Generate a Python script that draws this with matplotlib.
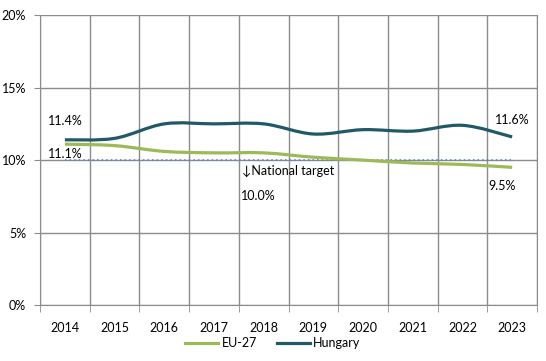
import numpy as np
import matplotlib
matplotlib.use("Agg")
import matplotlib.pyplot as plt
from matplotlib.path import Path
from matplotlib.patches import PathPatch
from matplotlib.lines import Line2D

years = ["2014", "2015", "2016", "2017", "2018", "2019", "2020", "2021", "2022", "2023"]
eu27 = [11.1, 11.0, 10.6, 10.5, 10.5, 10.2, 10.0, 9.8, 9.7, 9.5]
hungary = [11.4, 11.5, 12.5, 12.5, 12.5, 11.8, 12.1, 12.0, 12.4, 11.6]
target = 10.0

GREEN = "#9BBB59"
TEAL = "#215968"
BLUE = "#4F81BD"
GRID = "#8C8C8C"

plt.rcParams['font.family'] = ['Lato', 'DejaVu Sans']


def smooth_path(xs, ys, tension=1 / 6):
    # Excel-like smoothed line: cubic bezier through the data points
    xs = np.asarray(xs, float)
    ys = np.asarray(ys, float)
    n = len(xs)
    verts = [(xs[0], ys[0])]
    codes = [Path.MOVETO]
    for i in range(n - 1):
        p0 = np.array([xs[max(i - 1, 0)], ys[max(i - 1, 0)]])
        p1 = np.array([xs[i], ys[i]])
        p2 = np.array([xs[i + 1], ys[i + 1]])
        p3 = np.array([xs[min(i + 2, n - 1)], ys[min(i + 2, n - 1)]])
        c1 = p1 + (p2 - p0) * tension
        c2 = p2 - (p3 - p1) * tension
        verts += [tuple(c1), tuple(c2), tuple(p2)]
        codes += [Path.CURVE4] * 3
    return Path(verts, codes)


fig = plt.figure(figsize=(5.46, 3.61), dpi=100)
ax = fig.add_axes([0.0733, 0.155, 0.9102, 0.803])

x = np.arange(len(years))
ax.hlines(target, x[0], x[-1], colors=BLUE, linestyles=(0, (1, 2)), lw=1.1, zorder=2)
ax.add_patch(PathPatch(smooth_path(x, eu27), fill=False, ec=GREEN, lw=2.3, zorder=3,
                       capstyle="butt"))
ax.add_patch(PathPatch(smooth_path(x, hungary), fill=False, ec=TEAL, lw=2.3, zorder=3,
                       capstyle="butt"))

ax.set_xlim(-0.5, len(years) - 0.5)
ax.set_ylim(0, 20)
ax.set_yticks([0, 5, 10, 15, 20])
ax.set_yticklabels([f"{v}%" for v in [0, 5, 10, 15, 20]])
ax.set_xticks(x)
ax.set_xticklabels(years)
ax.set_xticks(np.arange(-0.5, len(years)), minor=True)
ax.tick_params(axis="x", which="major", length=0, pad=12, labelsize=9, colors="black")
ax.tick_params(axis="x", which="minor", length=5, color=GRID, direction="out")
ax.tick_params(axis="y", length=4, color=GRID, labelsize=9, pad=6)
ax.grid(True, axis="y", color=GRID, lw=1)
ax.grid(True, axis="x", which="minor", color=GRID, lw=1)
for s in ax.spines.values():
    s.set_color(GRID)
ax.spines["top"].set_visible(False)
ax.set_axisbelow(True)

fs = 9
ax.text(x[0], 12.7, f"{hungary[0]}%", ha="center", va="center", fontsize=fs)
ax.text(x[0], 10.4, f"{eu27[0]}%", ha="center", va="center", fontsize=fs)
ax.text(x[-1], 12.8, f"{hungary[-1]}%", ha="center", va="center", fontsize=fs)
ax.text(8.8, 8.2, f"{eu27[-1]}%", ha="center", va="center", fontsize=fs)
ax.text(3.57, 9.25, "↓National target", ha="left", va="center", fontsize=fs)
ax.text(3.9, 7.5, f"{target:.1f}%", ha="center", va="center", fontsize=fs)

handles = [Line2D([], [], color=GREEN, lw=2.3), Line2D([], [], color=TEAL, lw=2.3)]
fig.legend(handles, ["EU-27", "Hungary"], loc="center", bbox_to_anchor=(0.5, 0.05),
           ncol=2, frameon=False, fontsize=fs, handlelength=2.6, handletextpad=0.3,
           columnspacing=1.6)

fig.savefig("out.png", dpi=100)
